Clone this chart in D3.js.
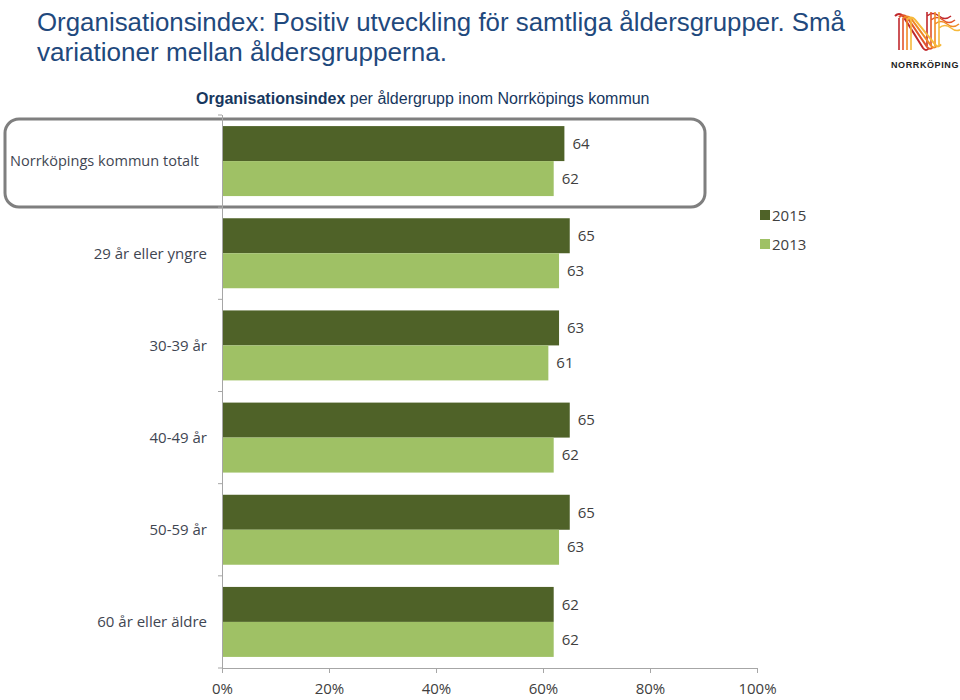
<!DOCTYPE html>
<html><head><meta charset="utf-8">
<script src="https://cdn.jsdelivr.net/npm/d3@7"></script>
<style>body{margin:0;background:#fff;}svg{display:block;}</style>
</head><body>
<svg id="c" width="960" height="700"></svg>
<script>
const categories = ["Norrköpings kommun totalt","29 år eller yngre","30-39 år","40-49 år","50-59 år","60 år eller äldre"];
const series = ["2015","2013"];
const values2015 = [64,65,63,65,65,62];
const values2013 = [62,63,61,62,63,62];
const xTicks = [0,20,40,60,80,100];
const colors = {"2015":"#4F6228","2013":"#9FC165"};

const svg = d3.select("#c");
const lab = "'Open Sans', 'Noto Sans', sans-serif";

// Title
svg.append("text").attr("x",37).attr("y",31).attr("font-family","'Liberation Sans', Arial, sans-serif").attr("font-size",25)
  .attr("fill","#1F497D").attr("textLength",808).attr("lengthAdjust","spacingAndGlyphs")
  .text("Organisationsindex: Positiv utveckling för samtliga åldersgrupper. Små");
svg.append("text").attr("x",37).attr("y",61).attr("font-family","'Liberation Sans', Arial, sans-serif").attr("font-size",25)
  .attr("fill","#1F497D").attr("textLength",410).attr("lengthAdjust","spacingAndGlyphs")
  .text("variationer mellan åldersgrupperna.");

// Subtitle
const st = svg.append("text").attr("x",196).attr("y",104).attr("font-family","'Liberation Sans', Arial, sans-serif")
  .attr("font-size",16).attr("fill","#17375E");
st.append("tspan").attr("font-weight","bold").text("Organisationsindex");
st.append("tspan").text(" per åldergrupp inom Norrköpings kommun");

// Scales
const x = d3.scaleLinear().domain([0,100]).range([222,757]);
const y0 = d3.scaleBand().domain(categories).range([115,668]).padding(0);
const y1 = d3.scaleBand().domain(series).range([0,y0.bandwidth()]).paddingInner(0).paddingOuter(0.317);

// Highlight box
svg.append("rect").attr("x",5).attr("y",119).attr("width",700).attr("height",88).attr("rx",14)
  .attr("fill","none").attr("stroke","#7F7F7F").attr("stroke-width",3);

// Bars
const data = categories.map((c,i)=>({c, v:{"2015":values2015[i],"2013":values2013[i]}}));
const g = svg.append("g");
data.forEach(d=>{
  series.forEach(s=>{
    g.append("rect").attr("x",x(0)).attr("y",y0(d.c)+y1(s))
      .attr("width",x(d.v[s])-x(0)).attr("height",y1.bandwidth()).attr("fill",colors[s]);
    g.append("text").attr("x",x(d.v[s])+8).attr("y",y0(d.c)+y1(s)+y1.bandwidth()/2)
      .attr("dy","0.35em").attr("font-family",lab).attr("font-size",15).attr("fill","#404040")
      .text(d.v[s]);
  });
});

// Y axis (category boundaries)
svg.append("line").attr("x1",222.5).attr("x2",222.5).attr("y1",115).attr("y2",668)
  .attr("stroke","#A6A6A6").attr("stroke-width",1);
d3.range(categories.length+1).forEach(i=>{
  const yy = 115 + i*y0.step();
  svg.append("line").attr("x1",218).attr("x2",222).attr("y1",yy).attr("y2",yy)
    .attr("stroke","#A6A6A6");
});
categories.forEach((c,i)=>{
  const t = svg.append("text").attr("x",i===0?199:207).attr("y",y0(c)+y0.bandwidth()/2)
    .attr("dy","0.35em").attr("text-anchor","end").attr("font-family",lab).attr("font-size",15)
    .attr("fill","#3F4652").text(c);
  if(i===0) t.attr("textLength",189).attr("lengthAdjust","spacingAndGlyphs");
});

// X axis
const xa = svg.append("g").attr("transform","translate(0,668)")
  .call(d3.axisBottom(x).tickValues(xTicks).tickFormat(d=>d+"%").tickSize(5).tickPadding(10));
xa.select(".domain").attr("stroke","#A6A6A6");
xa.selectAll(".tick line").attr("stroke","#A6A6A6");
xa.selectAll("text").attr("font-family",lab).attr("font-size",15).attr("fill","#404040");

// Legend
series.forEach((s,i)=>{
  svg.append("rect").attr("x",760).attr("y",210+i*29).attr("width",10).attr("height",10).attr("fill",colors[s]);
  svg.append("text").attr("x",772).attr("y",215+i*29).attr("dy","0.38em").attr("font-family",lab)
    .attr("font-size",15).attr("fill","#404040").text(s);
});

// Logo (stylized)
const logo = svg.append("g").attr("transform","translate(893,4)");
const lc = ["#C0282D","#E2552B","#F08A24","#F6B93B"];
lc.forEach((col,i)=>{
  const o = i*4;
  logo.append("path").attr("d",`M${2+o},${12+o*0.3} q4,-4 8,0 L${30+o},${44-o*0.3} q3,4 6,0`)
    .attr("fill","none").attr("stroke",col).attr("stroke-width",2);
  logo.append("path").attr("d",`M${6+o},${14} L${6+o},${46}`).attr("fill","none").attr("stroke",col).attr("stroke-width",1.6);
  logo.append("path").attr("d",`M${34+o},${8} L${34+o},${42} M${34+o},${12+o} q6,-5 12,0 q6,5 12,0`)
    .attr("fill","none").attr("stroke",col).attr("stroke-width",1.6);
});
svg.append("text").attr("x",925).attr("y",68).attr("text-anchor","middle").attr("font-family","'Liberation Sans', Arial, sans-serif")
  .attr("font-weight","bold").attr("font-size",9).attr("fill","#222").attr("letter-spacing",0.6).text("NORRKÖPING");
</script>
</body></html>
